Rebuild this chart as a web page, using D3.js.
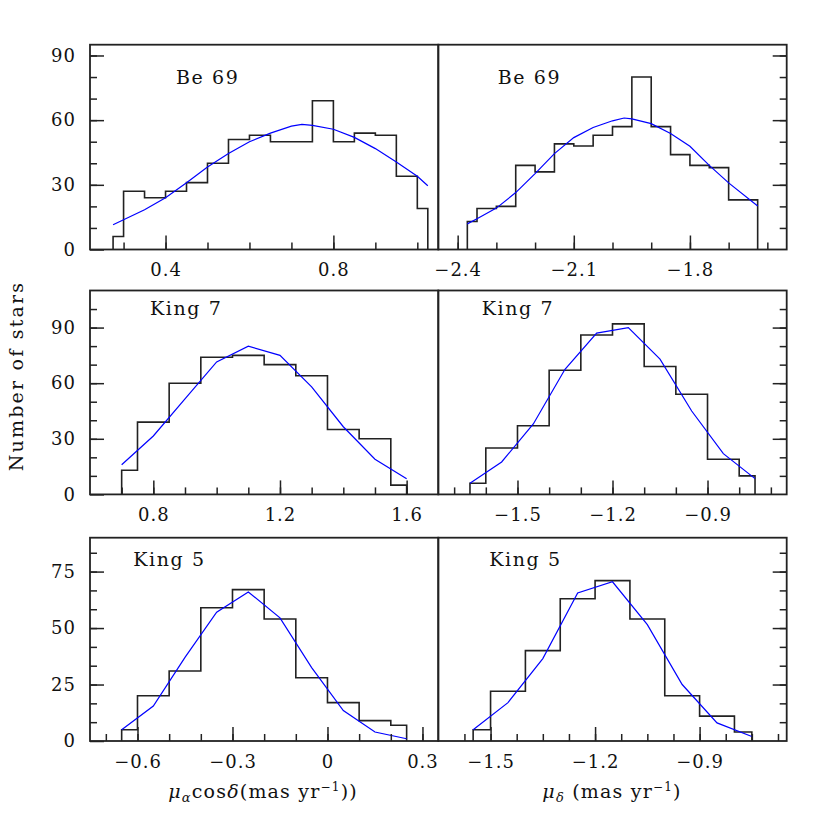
<!DOCTYPE html>
<html>
<head>
<meta charset="utf-8">
<script src="https://cdn.jsdelivr.net/npm/d3@7"></script>
<style>
  body { margin: 0; background: #fff; }
  text { font-family: "DejaVu Serif", serif; fill: #111; }
</style>
</head>
<body>
<div id="chart"></div>
<script>
// ---- data ----
// Be 69, pmRA
var be69RaEdges  = [0.275, 0.3, 0.35, 0.4, 0.45, 0.5, 0.55, 0.6, 0.65, 0.7, 0.75, 0.8, 0.85, 0.9, 0.95, 1.0, 1.025];
var be69RaCounts = [6, 27, 24, 27, 31, 40, 51, 53, 50, 50, 69, 50, 54, 53, 34, 19];
var be69RaFitX   = [0.275, 0.3, 0.35, 0.4, 0.45, 0.5, 0.55, 0.6, 0.65, 0.7, 0.725, 0.75, 0.8, 0.85, 0.9, 0.95, 1.0, 1.025];
var be69RaFitY   = [11.5, 13.8, 18.4, 24.0, 31.0, 38.3, 44.5, 50.0, 54.0, 57.2, 58.0, 57.6, 55.8, 52.0, 46.8, 40.6, 34.0, 29.6];
// Be 69, pmDec
var be69DeEdges  = [-2.375, -2.35, -2.3, -2.25, -2.2, -2.15, -2.1, -2.05, -2.0, -1.95, -1.9, -1.85, -1.8, -1.75, -1.7, -1.625];
var be69DeCounts = [13, 19, 20, 39, 36, 49, 48, 53, 57, 80, 57, 44, 39, 38, 23];
var be69DeFitX   = [-2.375, -2.35, -2.3, -2.25, -2.2, -2.15, -2.1, -2.05, -2.0, -1.97, -1.95, -1.9, -1.85, -1.8, -1.75, -1.7, -1.625];
var be69DeFitY   = [11.9, 14.3, 19.2, 26.4, 35.2, 44.5, 51.9, 56.6, 59.7, 61.0, 60.6, 58.4, 53.8, 47.9, 39.0, 30.9, 20.2];
// King 7, pmRA
var king7RaEdges  = [0.7, 0.75, 0.85, 0.95, 1.05, 1.15, 1.25, 1.35, 1.45, 1.55, 1.6];
var king7RaCounts = [13, 39, 60, 74, 75, 70, 64, 35, 30, 5];
var king7RaFitX   = [0.7, 0.8, 0.9, 1.0, 1.1, 1.2, 1.3, 1.4, 1.5, 1.6];
var king7RaFitY   = [16, 31.5, 51.5, 71.5, 80, 75, 58, 36.5, 19, 8.5];
// King 7, pmDec
var king7DeEdges  = [-1.65, -1.6, -1.5, -1.4, -1.3, -1.2, -1.1, -1.0, -0.9, -0.8, -0.75];
var king7DeCounts = [6, 25, 37, 67, 86, 92, 69, 54, 19, 10];
var king7DeFitX   = [-1.65, -1.55, -1.45, -1.35, -1.25, -1.15, -1.05, -0.95, -0.85, -0.75];
var king7DeFitY   = [6, 17.5, 38, 67.5, 87, 90, 73, 45, 22, 8.5];
// King 5, pmRA
var king5RaEdges  = [-0.65, -0.6, -0.5, -0.4, -0.3, -0.2, -0.1, 0, 0.1, 0.2, 0.25];
var king5RaCounts = [5, 20, 31, 59, 67, 54, 28, 17, 9, 7];
var king5RaFitX   = [-0.65, -0.55, -0.45, -0.35, -0.25, -0.15, -0.05, 0.05, 0.15, 0.25];
var king5RaFitY   = [5, 15.5, 37, 57, 66, 54.5, 32.5, 13.5, 4, 1];
// King 5, pmDec
var king5DeEdges  = [-1.55, -1.5, -1.4, -1.3, -1.2, -1.1, -1.0, -0.9, -0.8, -0.75];
var king5DeCounts = [5, 22, 40, 63, 71, 54, 20, 11, 4];
var king5DeFitX   = [-1.55, -1.45, -1.35, -1.25, -1.15, -1.05, -0.95, -0.85, -0.75];
var king5DeFitY   = [5, 17, 36.5, 65.5, 70.5, 51.5, 25, 8, 2];

// tick labels
var be69RaTicks  = [0.4, 0.8];
var be69DeTicks  = [-2.4, -2.1, -1.8];
var king7RaTicks = [0.8, 1.2, 1.6];
var king7DeTicks = [-1.5, -1.2, -0.9];
var king5RaTicks = [-0.6, -0.3, 0, 0.3];
var king5DeTicks = [-1.5, -1.2, -0.9];
var topYTicks    = [0, 30, 60, 90];
var midYTicks    = [0, 30, 60, 90];
var botYTicks    = [0, 25, 50, 75];
var clusterNames = ["Be 69", "King 7", "King 5"];

// ---- layout ----
var W = 830, H = 830;
var colX = [90, 438.3, 786.7];
var rows = [
  {top: 44.7,  bottom: 249.5, yMax: 95,  major: topYTicks, minor: d3.range(10, 91, 10),  labelDy: 39.6},
  {top: 290.5, bottom: 494.4, yMax: 110, major: midYTicks, minor: d3.range(10, 101, 10), labelDy: 24.6},
  {top: 537.7, bottom: 741,   yMax: 90,  major: botYTicks, minor: d3.range(1, 11).map(function(i) { return i * 25 / 3; }), labelDy: 28.2}
];

var panels = [
  {row: 0, col: 0, edges: be69RaEdges, counts: be69RaCounts, fx: be69RaFitX, fy: be69RaFitY,
   xDomain: [0.22, 1.05], xMajor: be69RaTicks, xMinor: d3.range(3, 11).map(function(i) { return i / 10; }), labelX: 176},
  {row: 0, col: 1, edges: be69DeEdges, counts: be69DeCounts, fx: be69DeFitX, fy: be69DeFitY,
   xDomain: [-2.45, -1.55], xMajor: be69DeTicks, xMinor: d3.range(-24, -15).map(function(i) { return i / 10; }), labelX: 497.7},
  {row: 1, col: 0, edges: king7RaEdges, counts: king7RaCounts, fx: king7RaFitX, fy: king7RaFitY,
   xDomain: [0.6, 1.7], xMajor: king7RaTicks, xMinor: d3.range(7, 17).map(function(i) { return i / 10; }), labelX: 150},
  {row: 1, col: 1, edges: king7DeEdges, counts: king7DeCounts, fx: king7DeFitX, fy: king7DeFitY,
   xDomain: [-1.75, -0.65], xMajor: king7DeTicks, xMinor: d3.range(-17, -6).map(function(i) { return i / 10; }), labelX: 481.7},
  {row: 2, col: 0, edges: king5RaEdges, counts: king5RaCounts, fx: king5RaFitX, fy: king5RaFitY,
   xDomain: [-0.75, 0.35], xMajor: king5RaTicks, xMinor: d3.range(-7, 4).map(function(i) { return i / 10; }), labelX: 133.3},
  {row: 2, col: 1, edges: king5DeEdges, counts: king5DeCounts, fx: king5DeFitX, fy: king5DeFitY,
   xDomain: [-1.65, -0.65], xMajor: king5DeTicks, xMinor: d3.range(-21, -8).map(function(i) { return i * 0.075; }), labelX: 489.3}
];

var svg = d3.select('#chart').append('svg')
    .attr('width', W)
    .attr('height', H);

svg.append('rect').attr('width', W).attr('height', H).attr('fill', '#fff');

var tickFmt = function(d) { return d === 0 ? '0' : d3.format('.1f')(d); };

panels.forEach(function(p) {
  var r = rows[p.row];
  var x0 = colX[p.col], x1 = colX[p.col + 1];

  var x = d3.scaleLinear().domain(p.xDomain).range([x0, x1]);
  var y = d3.scaleLinear().domain([0, r.yMax]).range([r.bottom, r.top]);

  var g = svg.append('g');

  // stepped histogram outline
  var pts = [[p.edges[0], 0]];
  p.counts.forEach(function(c, i) {
    pts.push([p.edges[i], c]);
    pts.push([p.edges[i + 1], c]);
  });
  pts.push([p.edges[p.edges.length - 1], 0]);

  g.append('path')
      .datum(pts)
      .attr('fill', 'none')
      .attr('stroke', '#222')
      .attr('stroke-width', 1.6)
      .attr('d', d3.line()
          .x(function(d) { return x(d[0]); })
          .y(function(d) { return y(d[1]); }));

  // fitted curve
  g.append('path')
      .datum(p.fx.map(function(v, i) { return [v, p.fy[i]]; }))
      .attr('fill', 'none')
      .attr('stroke', '#0000ff')
      .attr('stroke-width', 1.2)
      .attr('d', d3.line()
          .x(function(d) { return x(d[0]); })
          .y(function(d) { return y(d[1]); }));

  // x axis minor + major ticks
  var xMinorAxis = g.append('g')
      .attr('transform', 'translate(0,' + r.bottom + ')')
      .call(d3.axisBottom(x).tickValues(p.xMinor).tickSizeInner(-7).tickSizeOuter(0).tickFormat(''));
  var xMajorAxis = g.append('g')
      .attr('transform', 'translate(0,' + r.bottom + ')')
      .call(d3.axisBottom(x).tickValues(p.xMajor).tickSizeInner(-14).tickSizeOuter(0)
          .tickPadding(13.8).tickFormat(tickFmt));

  // y axis: labelled on the left column, bare ticks on the right edge
  var yMinorAxis, yMajorAxis;
  if (p.col === 0) {
    yMinorAxis = g.append('g')
        .attr('transform', 'translate(' + x0 + ',0)')
        .call(d3.axisLeft(y).tickValues(r.minor).tickSizeInner(-7).tickSizeOuter(0).tickFormat(''));
    yMajorAxis = g.append('g')
        .attr('transform', 'translate(' + x0 + ',0)')
        .call(d3.axisLeft(y).tickValues(r.major).tickSizeInner(-14).tickSizeOuter(0)
            .tickPadding(14).tickFormat(d3.format('d')));
  } else {
    yMinorAxis = g.append('g')
        .attr('transform', 'translate(' + x1 + ',0)')
        .call(d3.axisRight(y).tickValues(r.minor).tickSizeInner(-7).tickSizeOuter(0).tickFormat(''));
    yMajorAxis = g.append('g')
        .attr('transform', 'translate(' + x1 + ',0)')
        .call(d3.axisRight(y).tickValues(r.major.filter(function(d) { return d > 0; }))
            .tickSizeInner(-14).tickSizeOuter(0).tickFormat(''));
  }

  [xMinorAxis, xMajorAxis, yMinorAxis, yMajorAxis].forEach(function(a) {
    a.select('.domain').remove();
    a.selectAll('line').attr('stroke', '#222').attr('stroke-width', 1.5);
    a.selectAll('text')
        .attr('font-family', '"DejaVu Serif", serif')
        .attr('font-size', 18)
        .attr('letter-spacing', 1)
        .attr('fill', '#111');
  });

  // frame
  g.append('rect')
      .attr('x', x0)
      .attr('y', r.top)
      .attr('width', x1 - x0)
      .attr('height', r.bottom - r.top)
      .attr('fill', 'none')
      .attr('stroke', '#222')
      .attr('stroke-width', 1.8);

  // cluster name
  g.append('text')
      .attr('x', p.labelX)
      .attr('y', r.top + r.labelDy)
      .attr('font-size', 19)
      .attr('letter-spacing', 1.6)
      .style('white-space', 'pre')
      .text(clusterNames[p.row]);
});

// y axis title
svg.append('text')
    .attr('transform', 'translate(22.5,376) rotate(-90)')
    .attr('text-anchor', 'middle')
    .attr('font-size', 19)
    .attr('letter-spacing', 2.2)
    .text('Number of stars');

// x axis titles
var t1 = svg.append('text')
    .attr('x', 263)
    .attr('y', 798)
    .attr('text-anchor', 'middle')
    .attr('font-size', 19)
    .attr('letter-spacing', 1.2);
t1.append('tspan').attr('font-style', 'italic').text('μ');
t1.append('tspan').attr('font-style', 'italic').attr('font-size', 13).attr('dy', 4).text('α');
t1.append('tspan').attr('dy', -4).text('cos');
t1.append('tspan').attr('font-style', 'italic').text('δ');
t1.append('tspan').text('(mas yr');
t1.append('tspan').attr('font-size', 12).attr('dy', -7).text('−1');
t1.append('tspan').attr('dy', 7).text('))');

var t2 = svg.append('text')
    .attr('x', 612)
    .attr('y', 798)
    .attr('text-anchor', 'middle')
    .attr('font-size', 19)
    .attr('letter-spacing', 1.2);
t2.append('tspan').attr('font-style', 'italic').text('μ');
t2.append('tspan').attr('font-style', 'italic').attr('font-size', 13).attr('dy', 4).text('δ');
t2.append('tspan').attr('dy', -4).text(' (mas yr');
t2.append('tspan').attr('font-size', 12).attr('dy', -7).text('−1');
t2.append('tspan').attr('dy', 7).text(')');
</script>
</body>
</html>
